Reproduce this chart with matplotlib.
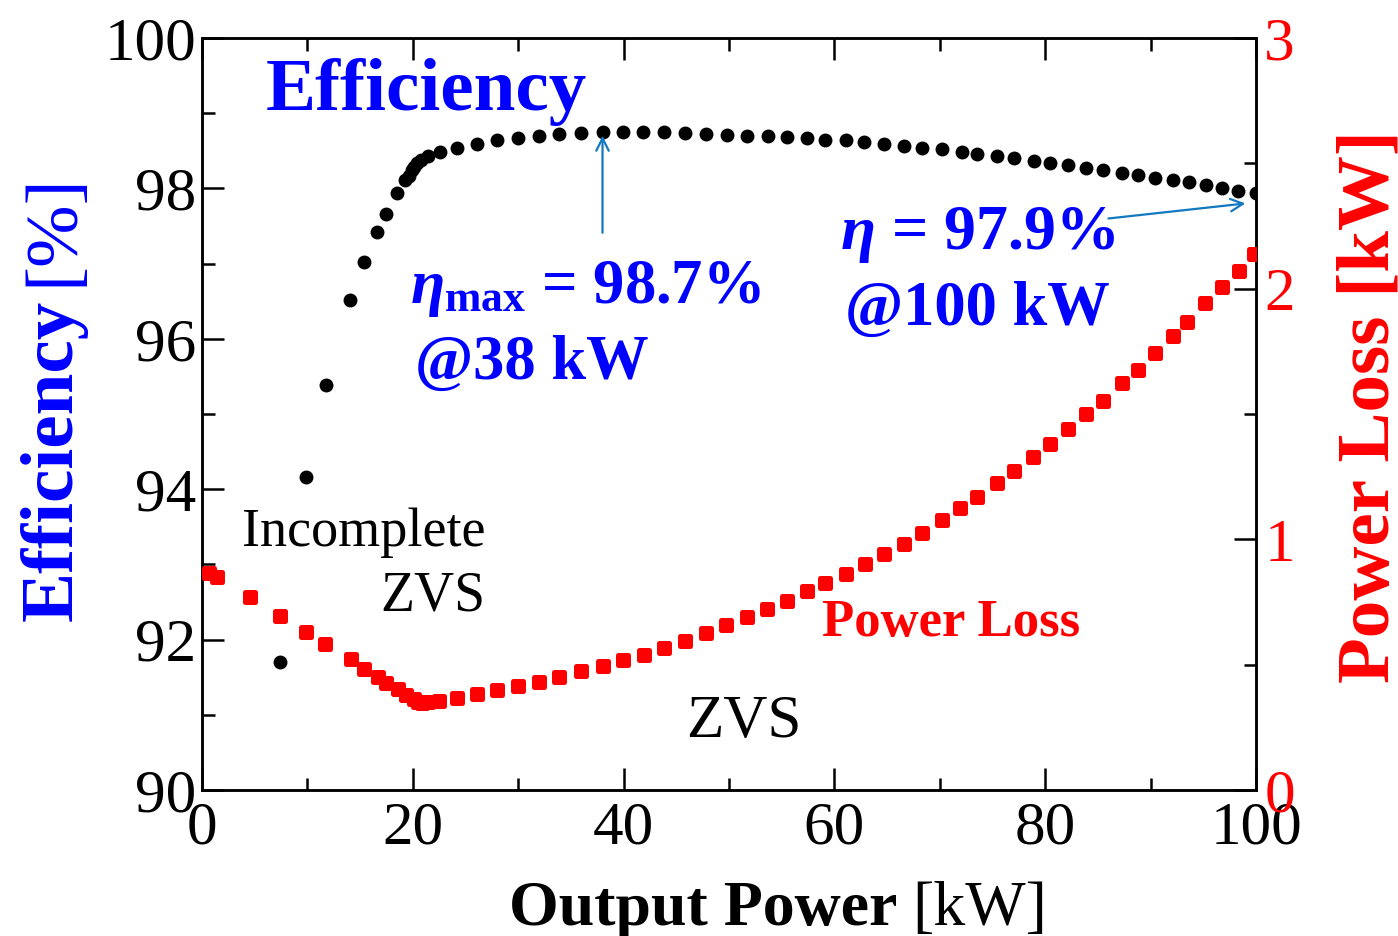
import matplotlib
matplotlib.use("Agg")
import matplotlib.pyplot as plt
from matplotlib.markers import MarkerStyle
from matplotlib.ticker import MultipleLocator

plt.rcParams["font.family"] = ["Liberation Serif", "DejaVu Serif"]
plt.rcParams["mathtext.fontset"] = "custom"
plt.rcParams["mathtext.it"] = "Liberation Serif:italic:bold"
plt.rcParams["mathtext.rm"] = "Liberation Serif:bold"
plt.rcParams["mathtext.bf"] = "Liberation Serif:bold"

# Efficiency measurements: output power [kW] and efficiency [%]
eff_power = [7.4, 9.9, 11.8, 14.0, 15.4, 16.6, 17.5, 18.5, 19.3, 19.6, 19.9, 20.1,
             20.4, 20.8, 21.4, 22.6, 24.2, 26.1, 28.0, 30.0, 32.0, 33.9, 36.0, 38.0,
             39.9, 41.8, 43.8, 45.8, 47.8, 49.8, 51.7, 53.7, 55.5, 57.4, 59.1, 61.1,
             62.8, 64.7, 66.6, 68.3, 70.2, 72.1, 73.5, 75.4, 77.0, 78.9, 80.5, 82.2,
             83.9, 85.5, 87.3, 88.8, 90.4, 92.1, 93.6, 95.3, 96.8, 98.3, 100.0]
efficiency = [91.70, 94.16, 95.39, 96.51, 97.02, 97.42, 97.66, 97.94, 98.11, 98.17,
              98.24, 98.29, 98.34, 98.38, 98.43, 98.49, 98.54, 98.59, 98.64, 98.67,
              98.70, 98.72, 98.74, 98.75, 98.75, 98.75, 98.75, 98.74, 98.73, 98.71,
              98.70, 98.70, 98.68, 98.67, 98.65, 98.64, 98.62, 98.59, 98.56, 98.54,
              98.52, 98.49, 98.46, 98.43, 98.40, 98.37, 98.34, 98.31, 98.27, 98.24,
              98.21, 98.18, 98.14, 98.11, 98.08, 98.04, 98.00, 97.96, 97.94]

# Power loss measurements: output power [kW] and loss [kW]
loss_power = [0.7, 1.4, 4.6, 7.4, 9.9, 11.7, 14.1, 15.4, 16.7, 17.5, 18.6, 19.4,
              20.1, 20.5, 20.9, 21.4, 22.5, 24.2, 26.1, 28.0, 30.0, 32.0, 33.9, 36.0,
              38.0, 39.9, 41.9, 43.8, 45.8, 47.8, 49.7, 51.7, 53.6, 55.5, 57.4, 59.1,
              61.1, 62.9, 64.7, 66.6, 68.3, 70.2, 71.9, 73.5, 75.4, 77.0, 78.8, 80.5,
              82.2, 83.9, 85.5, 87.3, 88.8, 90.4, 92.1, 93.5, 95.2, 96.8, 98.4, 99.8]
power_loss = [0.867, 0.851, 0.771, 0.695, 0.632, 0.581, 0.522, 0.484, 0.450, 0.428,
              0.402, 0.379, 0.362, 0.350, 0.346, 0.350, 0.356, 0.368, 0.384, 0.397,
              0.413, 0.430, 0.450, 0.473, 0.494, 0.517, 0.539, 0.567, 0.596, 0.627,
              0.658, 0.689, 0.723, 0.754, 0.792, 0.826, 0.863, 0.903, 0.941, 0.983,
              1.025, 1.077, 1.125, 1.170, 1.223, 1.273, 1.330, 1.382, 1.440, 1.500,
              1.553, 1.622, 1.676, 1.742, 1.810, 1.869, 1.942, 2.006, 2.072, 2.139]

x_ticks = [0, 20, 40, 60, 80, 100]
eff_ticks = [90, 92, 94, 96, 98, 100]
loss_ticks = [0, 1, 2, 3]

BLUE = "#0000ff"
RED = "#ff0000"
ARROW = "#1478c0"
TICK_FS = 44

fig = plt.figure(figsize=(13.98, 9.36), dpi=100)
ax = fig.add_axes([202 / 1398, 1 - 790 / 936, (1256 - 202) / 1398, (790 - 38) / 936])
ax2 = ax.twinx()

ax.plot(eff_power, efficiency, linestyle="none", marker="o", markersize=9.0,
        color="black", zorder=3)
sq = MarkerStyle("s", joinstyle="round")
ax2.plot(loss_power, power_loss, linestyle="none", marker=sq, markersize=7.0,
         markeredgewidth=3.6, color=RED, zorder=3)

ax.set_xlim(0, 100)
ax.set_ylim(90, 100)
ax2.set_ylim(0, 3)

for a in (ax, ax2):
    for s in a.spines.values():
        s.set_linewidth(1.8)

ax.set_xticks(x_ticks)
ax.set_xticklabels([str(v) for v in x_ticks])
ax.xaxis.set_minor_locator(MultipleLocator(10))
ax.set_yticks(eff_ticks)
ax.set_yticklabels([str(v) for v in eff_ticks])
ax.yaxis.set_minor_locator(MultipleLocator(1))
ax2.set_yticks(loss_ticks)
ax2.set_yticklabels([str(v) for v in loss_ticks])
ax2.yaxis.set_minor_locator(MultipleLocator(0.5))

ax.tick_params(axis="x", which="both", direction="in", top=True, bottom=True,
               width=1.8, labelsize=TICK_FS, pad=8)
ax.tick_params(axis="x", which="major", length=16)
ax.tick_params(axis="x", which="minor", length=9)
ax.tick_params(axis="y", which="both", direction="in", left=True, right=False,
               width=1.8, labelsize=TICK_FS, pad=4)
ax.tick_params(axis="y", which="major", length=16)
ax.tick_params(axis="y", which="minor", length=9)
ax2.tick_params(axis="y", which="both", direction="in", right=True, left=False,
                width=1.8, labelsize=TICK_FS, labelcolor=RED, pad=6)
ax2.tick_params(axis="y", which="major", length=16)
ax2.tick_params(axis="y", which="minor", length=9)


def px(x, y):
    return (x / 1398, 1 - y / 936)


# Axis titles assembled from bold and regular pieces
fig.text(*px(897, 925), "Output Power", fontsize=46, fontweight="bold",
         ha="right", va="baseline")
fig.text(*px(912, 925), "[kW]", fontsize=46, ha="left", va="baseline")

fig.text(*px(72, 460), "Efficiency", fontsize=54, fontweight="bold", color=BLUE,
         rotation=90, rotation_mode="anchor", ha="center", va="baseline")
fig.text(*px(72, 230), "[%]", fontsize=54, color=BLUE,
         rotation=90, rotation_mode="anchor", ha="center", va="baseline")

fig.text(*px(1388, 407), "Power Loss [kW]", fontsize=54, fontweight="bold",
         color=RED, rotation=90, rotation_mode="anchor", ha="center", va="baseline")

# Annotations inside the plot
ax.text(6.0, 99.04, "Efficiency", fontsize=54, fontweight="bold", color=BLUE,
        ha="left", va="baseline")
ax.text(19.7, 96.47, r"$\eta_{\mathrm{max}}$ = 98.7%", fontsize=45,
        fontweight="bold", color=BLUE, ha="left", va="baseline")
ax.text(20.2, 95.47, "@38 kW", fontsize=45, fontweight="bold", color=BLUE,
        ha="left", va="baseline")
ax.text(60.5, 97.20, r"$\eta$ = 97.9%", fontsize=46, fontweight="bold",
        color=BLUE, ha="left", va="baseline")
ax.text(61.0, 96.18, "@100 kW", fontsize=45, fontweight="bold", color=BLUE,
        ha="left", va="baseline")
ax.text(3.8, 93.25, "Incomplete", fontsize=39, ha="left", va="baseline")
ax.text(16.9, 92.39, "ZVS", fontsize=40, ha="left", va="baseline")
ax.text(45.9, 90.70, "ZVS", fontsize=44, ha="left", va="baseline")
ax.text(58.8, 92.05, "Power Loss", fontsize=38, fontweight="bold", color=RED,
        ha="left", va="baseline")

arrow_kw = dict(arrowstyle="->,head_length=0.9,head_width=0.45", color=ARROW,
                lw=1.6, shrinkA=0, shrinkB=0)
ax.annotate("", xy=(38.0, 98.70), xytext=(38.0, 97.41), arrowprops=arrow_kw)
ax.annotate("", xy=(99.0, 97.80), xytext=(86.0, 97.60), arrowprops=arrow_kw)

fig.savefig("out.png", dpi=100)
